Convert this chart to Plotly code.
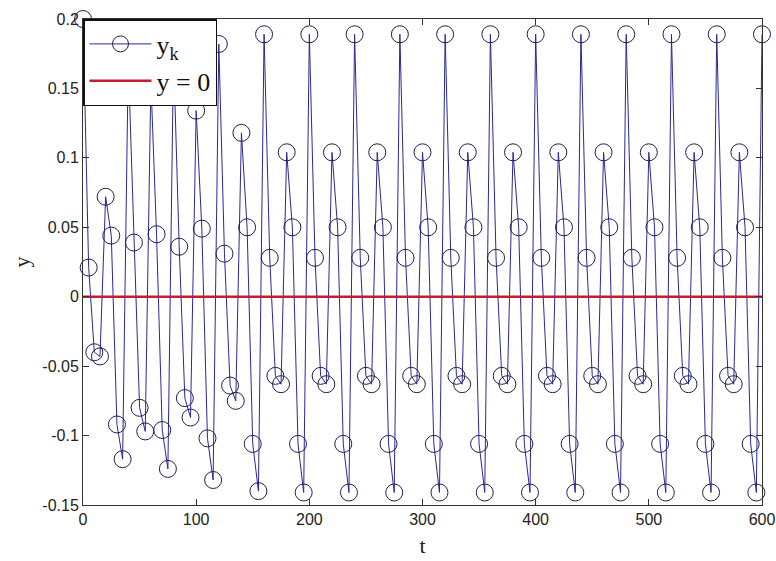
import plotly.graph_objects as go

# sample times (every 5 units from 0 to 600)
t = list(range(0, 605, 5))

# y_k values
yk = [
    0.200, 0.021, -0.040, -0.043, 0.072, 0.044, -0.092, -0.117,
    0.170, 0.039, -0.080, -0.097, 0.155, 0.045, -0.096, -0.124,
    0.175, 0.036, -0.073, -0.087, 0.134, 0.049, -0.102, -0.132,
    0.182, 0.031, -0.064, -0.075, 0.118, 0.050, -0.106, -0.140,
    0.189, 0.028, -0.057, -0.063, 0.104, 0.050, -0.106, -0.141,
    0.189, 0.028, -0.057, -0.063, 0.104, 0.050, -0.106, -0.141,
    0.189, 0.028, -0.057, -0.063, 0.104, 0.050, -0.106, -0.141,
    0.189, 0.028, -0.057, -0.063, 0.104, 0.050, -0.106, -0.141,
    0.189, 0.028, -0.057, -0.063, 0.104, 0.050, -0.106, -0.141,
    0.189, 0.028, -0.057, -0.063, 0.104, 0.050, -0.106, -0.141,
    0.189, 0.028, -0.057, -0.063, 0.104, 0.050, -0.106, -0.141,
    0.189, 0.028, -0.057, -0.063, 0.104, 0.050, -0.106, -0.141,
    0.189, 0.028, -0.057, -0.063, 0.104, 0.050, -0.106, -0.141,
    0.189, 0.028, -0.057, -0.063, 0.104, 0.050, -0.106, -0.141,
    0.189, 0.028, -0.057, -0.063, 0.104, 0.050, -0.106, -0.141,
    0.189,
]

zero_x = [0, 600]
zero_y = [0, 0]

x_ticks = [0, 100, 200, 300, 400, 500, 600]
x_ticktext = ["0", "100", "200", "300", "400", "500", "600"]
y_ticks = [-0.15, -0.1, -0.05, 0, 0.05, 0.1, 0.15, 0.2]
y_ticktext = ["-0.15", "-0.1", "-0.05", "0", "0.05", "0.1", "0.15", "0.2"]

fig = go.Figure()
fig.add_trace(go.Scatter(
    x=t, y=yk, mode="lines+markers", name="y<sub>k</sub>",
    line=dict(color="#28289a", width=1),
    marker=dict(symbol="circle-open", size=17, color="#1e1e5a",
                line=dict(width=1, color="#1e1e5a")),
    cliponaxis=False,
))
fig.add_trace(go.Scatter(
    x=zero_x, y=zero_y, mode="lines", name="y = 0",
    line=dict(color="#bf1f2e", width=2.5),
))

axis_common = dict(
    showline=True, linecolor="#333333", linewidth=1, mirror="ticks",
    ticks="inside", ticklen=6, tickcolor="#333333",
    showgrid=False, zeroline=False, automargin=False,
    tickfont=dict(family="Liberation Sans, Arial", size=16, color="#222222"),
)

fig.update_layout(
    width=776, height=561,
    margin=dict(l=83, r=14, t=19, b=56),
    paper_bgcolor="white", plot_bgcolor="white",
    xaxis=dict(range=[0, 600], tickvals=x_ticks, ticktext=x_ticktext,
               title=dict(text="t", font=dict(family="Liberation Serif", size=22, color="#222222"),
                          standoff=10),
               **axis_common),
    yaxis=dict(range=[-0.15, 0.2], tickvals=y_ticks, ticktext=y_ticktext,
               title=dict(text="y", font=dict(family="Liberation Serif", size=22, color="#222222"),
                          standoff=6),
               **axis_common),
    legend=dict(x=0, y=1, xanchor="left", yanchor="top",
                bgcolor="white", bordercolor="#111111", borderwidth=1.5,
                font=dict(family="Liberation Serif", size=26, color="#111111"),
                itemwidth=62, tracegroupgap=4),
    showlegend=True,
)

fig.write_html("out.html")
